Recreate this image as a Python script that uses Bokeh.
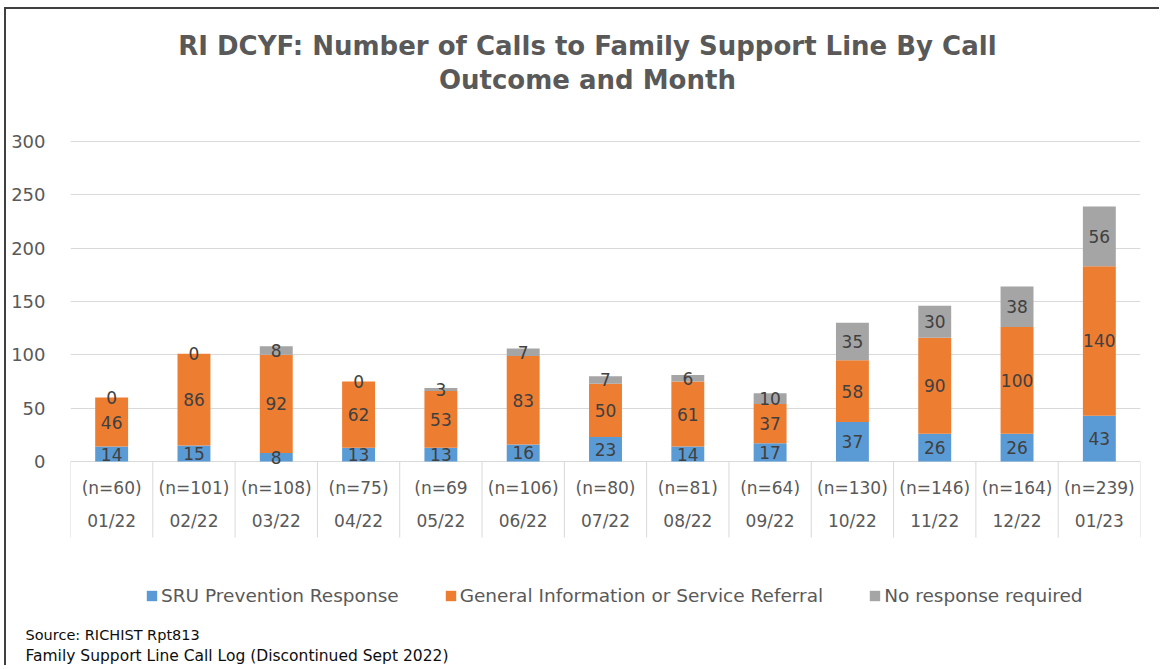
from bokeh.plotting import figure
from bokeh.models import (ColumnDataSource, Range1d, FixedTicker, Legend, LegendItem, Title)
from bokeh.core.properties import value
from bokeh.embed import file_html
from bokeh.resources import INLINE

months = ["01/22", "02/22", "03/22", "04/22", "05/22", "06/22", "07/22",
          "08/22", "09/22", "10/22", "11/22", "12/22", "01/23"]
n_labels = ["(n=60)", "(n=101)", "(n=108)", "(n=75)", "(n=69", "(n=106)", "(n=80)",
            "(n=81)", "(n=64)", "(n=130)", "(n=146)", "(n=164)", "(n=239)"]
sru = [14, 15, 8, 13, 13, 16, 23, 14, 17, 37, 26, 26, 43]
general = [46, 86, 92, 62, 53, 83, 50, 61, 37, 58, 90, 100, 140]
no_resp = [0, 0, 8, 0, 3, 7, 7, 6, 10, 35, 30, 38, 56]
series_names = ["SRU Prevention Response", "General Information or Service Referral",
                "No response required"]
colors = ["#5B9BD5", "#ED7D31", "#A5A5A5"]
y_ticks = [0, 50, 100, 150, 200, 250, 300]
title_lines = ["RI DCYF: Number of Calls to Family Support Line By Call",
               "Outcome and Month"]
footer_lines = ["Source: RICHIST Rpt813",
                "Family Support Line Call Log (Discontinued Sept 2022)"]

FONT = "DejaVu Sans"
TXT = "#595959"

xs = list(range(len(months)))
src = ColumnDataSource(dict(x=xs, sru=sru, general=general, no_resp=no_resp))

p = figure(width=1155, height=658, output_backend="svg", toolbar_location=None,
           x_range=Range1d(-0.5, 12.5), y_range=Range1d(-152.81, 423.75),
           x_axis_location=None,
           min_border_left=64, min_border_right=21, min_border_top=0,
           min_border_bottom=43)
p.styles = {"margin-left": "4px", "margin-top": "7px",
            "border-left": "2px solid #404040", "border-top": "2px solid #404040"}
p.outline_line_color = None
p.xgrid.visible = False
p.ygrid.ticker = FixedTicker(ticks=y_ticks)
p.ygrid.grid_line_color = "#D9D9D9"
p.ygrid.grid_line_width = 1
yax = p.yaxis[0]
yax.ticker = FixedTicker(ticks=y_ticks)
yax.axis_line_color = None
yax.major_tick_line_color = None
yax.minor_tick_line_color = None
yax.major_tick_out = 0
yax.major_tick_in = 0
yax.minor_tick_out = 0
yax.minor_tick_in = 0
yax.major_label_standoff = 25
yax.major_label_text_font = FONT
yax.major_label_text_font_size = "18px"
yax.major_label_text_color = TXT

rs = p.vbar_stack(["sru", "general", "no_resp"], x="x", width=0.4, color=colors,
                  line_color=None, source=src)

# data labels centered in each segment
lab_x, lab_y, lab_t = [], [], []
for i in xs:
    base = 0
    for v in (sru[i], general[i], no_resp[i]):
        lab_x.append(i)
        lab_y.append(base + v / 2)
        lab_t.append(str(v))
        base += v
p.text(x=lab_x, y=lab_y, text=lab_t, text_align="center", text_baseline="middle",
       text_font=value(FONT), text_font_size="17px", text_color="#404040")

# category table under the axis
bounds = [i - 0.5 for i in range(len(months) + 1)]
p.segment(x0=bounds, y0=[0] * len(bounds), x1=bounds, y1=[-71.25] * len(bounds),
          line_color="#D9D9D9", line_width=1)
p.text(x=xs, y=[-24.4] * len(xs), text=n_labels, text_align="center",
       text_baseline="middle", text_font=value(FONT), text_font_size="17px",
       text_color=TXT)
p.text(x=xs, y=[-56.2] * len(xs), text=months, text_align="center",
       text_baseline="middle", text_font=value(FONT), text_font_size="17px",
       text_color=TXT)

# title
p.text(x=[5.78, 5.78], y=[390.0, 358.1], text=title_lines, text_align="center",
       text_baseline="middle", text_font=value(FONT), text_font_size="26px",
       text_font_style="bold", text_color=TXT)

legend = Legend(items=[LegendItem(label=n, renderers=[r]) for n, r in zip(series_names, rs)],
                orientation="horizontal", location=(75, 18), padding=0, margin=0,
                spacing=45, label_standoff=3, glyph_width=13, glyph_height=13,
                label_height=20, label_text_font=FONT, label_text_font_size="18.5px",
                label_text_color=TXT, border_line_color=None,
                background_fill_alpha=0)
p.add_layout(legend, "center")

# footer (first added sits closest to the plot)
p.add_layout(Title(text=footer_lines[0], align="left", offset=-45, standoff=1,
                   text_font=FONT, text_font_size="14.5px", text_font_style="normal",
                   text_color="#0D0D0D"), "below")
p.add_layout(Title(text=footer_lines[1], align="left", offset=-45, standoff=3,
                   text_font=FONT, text_font_size="15.5px", text_font_style="normal",
                   text_color="#0D0D0D"), "below")

open("out.html", "w").write(file_html(p, INLINE))
